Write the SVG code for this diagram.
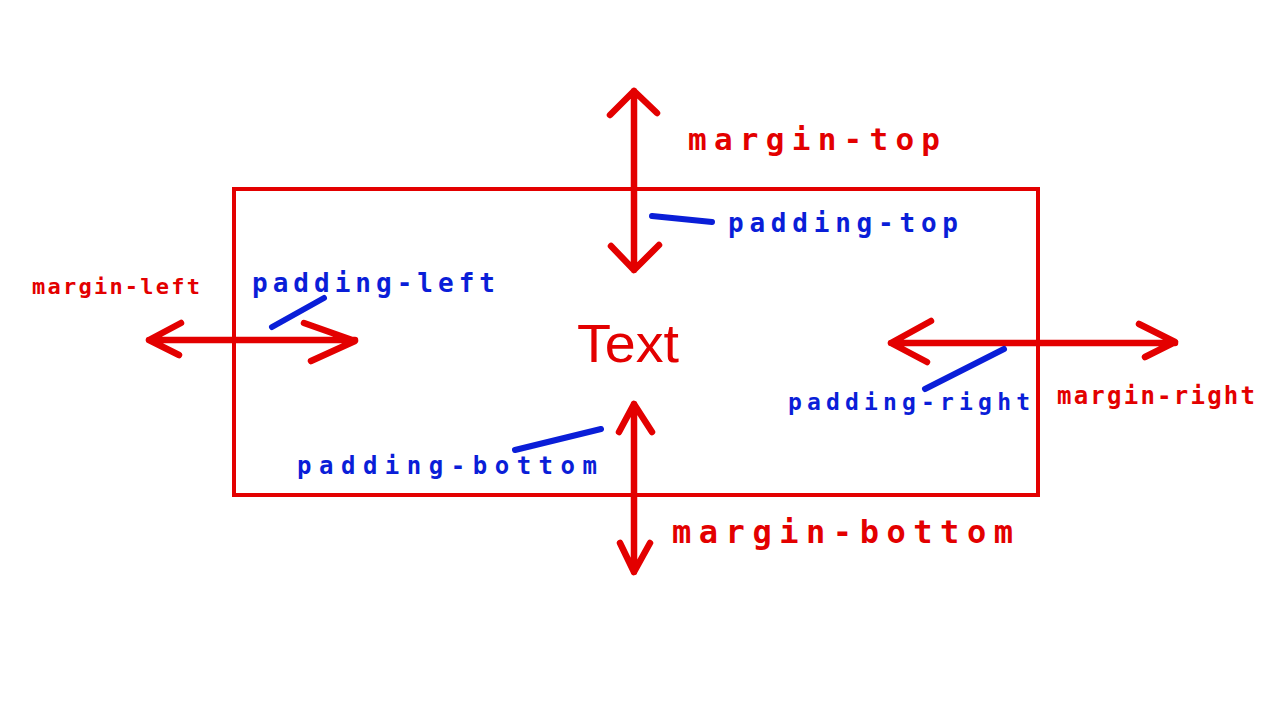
<svg xmlns="http://www.w3.org/2000/svg" width="1280" height="720" viewBox="0 0 1280 720">
<style>
.red{fill:none;stroke:#e30000;stroke-width:6.5;stroke-linecap:round;stroke-linejoin:round}
.blue{fill:none;stroke:#0a1ed8;stroke-width:6;stroke-linecap:round}
.lbl{font-family:"DejaVu Sans Mono","Liberation Mono",monospace;font-weight:bold}
.m{fill:#e30000}
.p{fill:#0a1ed8}
</style>
<rect width="1280" height="720" fill="#ffffff"/>
<g id="box">
<rect x="234" y="189" width="804" height="306" fill="none" stroke="#e30000" stroke-width="4"/>
</g>
<g id="content">
<text x="577" y="362" font-family="'Liberation Sans',Arial,sans-serif" font-size="54" fill="#e30000" textLength="102" lengthAdjust="spacingAndGlyphs">Text</text>
</g>
<g id="connectors">
<!-- top arrow -->
<path class="red" d="M634 91 V270 M610 115 L634 91 L657 113 M611 246 L634 270 L659 245"/>
<!-- bottom arrow -->
<path class="red" d="M634 404 V572 M619 432 L634 404 L652 432 M620 543 L634 572 L650 543"/>
<!-- left arrow -->
<path class="red" d="M149 340 H355 M181 323 L149 340 L179 355 M304 323 L355 341 L311 361"/>
<!-- right arrow -->
<path class="red" d="M891 343 H1175 M931 321 L891 343 L927 362 M1139 324 L1175 342 L1145 357"/>
<!-- padding leaders -->
<line class="blue" x1="652" y1="216" x2="712" y2="222"/>
<line class="blue" x1="272" y1="327" x2="324" y2="298"/>
<line class="blue" x1="925" y1="389" x2="1004" y2="349"/>
<line class="blue" x1="515" y1="450" x2="601" y2="429"/>
</g>
<g id="margin-top"><text class="lbl m" x="688" y="150" font-size="31" textLength="252" lengthAdjust="spacing">margin-top</text></g>
<g id="margin-bottom"><text class="lbl m" x="672" y="543" font-size="32" textLength="341" lengthAdjust="spacing">margin-bottom</text></g>
<g id="margin-left"><text class="lbl m" x="32" y="294" font-size="22" textLength="168" lengthAdjust="spacing">margin-left</text></g>
<g id="margin-right"><text class="lbl m" x="1057" y="404" font-size="24" textLength="198" lengthAdjust="spacing">margin-right</text></g>
<g id="padding-top"><text class="lbl p" x="728" y="232" font-size="26" textLength="230" lengthAdjust="spacing">padding-top</text></g>
<g id="padding-bottom"><text class="lbl p" x="297" y="474" font-size="24" textLength="300" lengthAdjust="spacing">padding-bottom</text></g>
<g id="padding-left"><text class="lbl p" x="252" y="292" font-size="26" textLength="243" lengthAdjust="spacing">padding-left</text></g>
<g id="padding-right"><text class="lbl p" x="788" y="410" font-size="23" textLength="242" lengthAdjust="spacing">padding-right</text></g>
</svg>
